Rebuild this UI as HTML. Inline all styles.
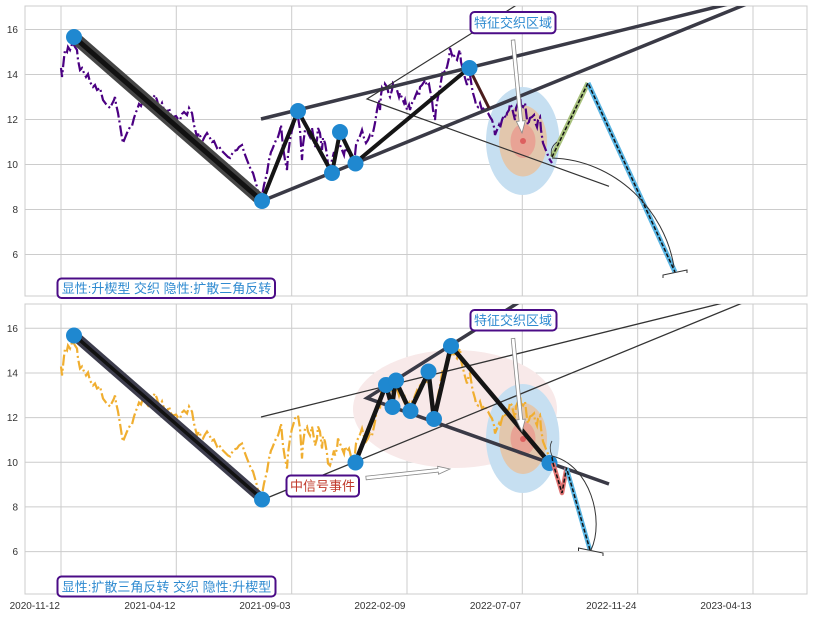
<!DOCTYPE html>
<html><head><meta charset="utf-8"><style>
html,body{margin:0;padding:0;background:#fff;}
svg{display:block;}
text{font-family:"Liberation Sans","Noto Sans CJK SC",sans-serif;}
</style></head><body>
<svg width="813" height="617" viewBox="0 0 813 617" xmlns="http://www.w3.org/2000/svg">
<defs>
<clipPath id="ct"><rect x="25" y="6" width="782" height="290"/></clipPath>
<clipPath id="cb"><rect x="25" y="304" width="782" height="290"/></clipPath>
<path id="ser" d="M61,68 L62,77 L64,58 L65,50 L67,52 L68,47 L70,50 L72,44 L73,43 L75,47 L77,50 L78,60 L80,70 L82,68 L84,73 L86,77 L88,74 L90,82 L93,87 L95,85 L97,90 L100,88 L102,96 L103,100 L106,104 L108,106 L110,108 L112,104 L114,100 L115,97 L116,104 L118,113 L120,125 L122,138 L123,143 L125,138 L127,133 L129,129 L130,127 L132,126 L134,118 L136,112 L137,110 L139,104 L141,106 L143,100 L145,103 L148,107 L150,102 L152,99 L155,95 L157,100 L158,104 L160,107 L162,103 L164,110 L167,113 L169,108 L171,115 L173,117 L176,116 L178,119 L180,120 L182,114 L184,112 L187,115 L189,108 L190,110 L192,113 L194,125 L197,137 L199,133 L201,138 L203,140 L205,136 L207,133 L210,138 L212,142 L214,141 L217,148 L219,146 L221,150 L223,152 L226,155 L228,157 L230,158 L232,154 L234,151 L237,150 L239,147 L242,145 L244,152 L247,160 L249,165 L251,170 L253,173 L255,180 L257,187 L258,193 L260,200 L262,196 L264,185 L267,173 L269,160 L271,152 L272,150 L274,145 L276,140 L278,137 L280,130 L281,125 L283,147 L285,160 L287,170 L288,155 L290,140 L292,130 L293,127 L295,120 L298,117 L300,130 L302,160 L303,145 L305,130 L307,128 L308,133 L310,137 L312,128 L314,140 L315,147 L317,140 L318,128 L320,133 L322,150 L323,138 L325,143 L327,155 L328,165 L330,167 L332,160 L334,152 L335,157 L337,150 L338,140 L340,145 L342,150 L344,155 L345,148 L347,153 L349,150 L351,158 L353,160 L355,155 L356,145 L358,140 L360,136 L362,130 L364,138 L366,143 L368,140 L370,135 L372,137 L374,128 L375,123 L377,110 L379,100 L380,110 L381,95 L382,88 L384,92 L385,84 L387,87 L389,95 L390,97 L392,90 L393,83 L395,85 L397,90 L399,97 L400,93 L402,98 L404,103 L405,100 L407,110 L409,105 L410,110 L412,103 L414,100 L415,97 L417,92 L419,96 L420,87 L422,85 L424,82 L425,80 L427,86 L429,84 L430,90 L432,100 L433,110 L435,120 L436,108 L438,97 L440,88 L442,75 L443,70 L445,72 L447,67 L449,58 L450,48 L452,55 L453,53 L455,58 L457,60 L459,52 L460,50 L461,62 L463,70 L465,78 L467,85 L468,80 L470,75 L472,88 L473,93 L475,100 L476,105 L478,107 L480,103 L482,110 L485,107 L487,112 L488,113 L490,117 L492,120 L494,127 L495,135 L497,130 L499,125 L500,128 L502,120 L504,115 L506,118 L507,113 L509,110 L510,104 L512,107 L513,112 L515,120 L516,108 L518,103 L520,96 L521,105 L523,107 L525,103 L527,120 L528,125 L530,118 L532,117 L534,115 L535,122 L537,127 L538,120 L540,117 L541,130 L543,143 L545,148 L547,153 L549,158 L550,160 L552,163"/>
</defs>

<!-- ============ TOP AXES ============ -->
<g stroke="#cccccc" stroke-width="1" fill="none">
<path d="M61,6V296 M176.3,6V296 M291.7,6V296 M407,6V296 M522.3,6V296 M637.7,6V296 M753,6V296"/>
<path d="M25,29.5H807 M25,74.5H807 M25,119.5H807 M25,164.5H807 M25,209.5H807 M25,254.5H807"/>
<rect x="25" y="6" width="782" height="290"/>
</g>
<g font-size="10" fill="#333" text-anchor="end">
<text x="18" y="33">16</text><text x="18" y="78">14</text><text x="18" y="123">12</text>
<text x="18" y="168">10</text><text x="18" y="213">8</text><text x="18" y="258">6</text>
</g>
<g clip-path="url(#ct)">
<ellipse cx="522.7" cy="141" rx="36.7" ry="54" fill="#c6dff1"/>
<ellipse cx="523" cy="141" rx="24" ry="35.5" fill="#e2c7ad"/>
<ellipse cx="523" cy="141" rx="12.5" ry="17" fill="#e8a395"/>
<circle cx="523" cy="141" r="3" fill="#dd5f5f"/>
<use href="#ser" fill="none" stroke="#4b0082" stroke-width="2.2" stroke-dasharray="11,3,2,3"/>
<path d="M261,119 L800,-13.6" stroke="#3a3a46" stroke-width="3.5" fill="none"/>
<path d="M262,201 L800,-17.7" stroke="#3a3a46" stroke-width="3.5" fill="none"/>
<path d="M530,-3.4 L367,99 L609,186.3" stroke="#333" stroke-width="1.2" fill="none"/>
<path d="M74,37 L262,201" stroke="#454545" stroke-width="12" fill="none" stroke-linecap="round"/>
<path d="M74,37 L262,201" stroke="#111" stroke-width="5" fill="none"/>
<path d="M262,201 L298,111 L332,173 L340,132 L355,163 L469,68" stroke="#151515" stroke-width="4" fill="none" stroke-linejoin="round"/>
<path d="M469,68 L489,108" stroke="#4a1c1c" stroke-width="3" fill="none"/>
<g fill="#1f88d0">
<circle cx="74" cy="37" r="8"/><circle cx="262" cy="201" r="8"/><circle cx="298" cy="111" r="8"/>
<circle cx="332" cy="173" r="8"/><circle cx="340" cy="132" r="8"/><circle cx="355.5" cy="163.5" r="8"/>
<circle cx="469.5" cy="68" r="8"/>
</g>
<path d="M552,157 L588,83" stroke="#a9c27e" stroke-width="5" fill="none"/>
<path d="M588,83 L675,272" stroke="#5bb6e4" stroke-width="5" fill="none"/>
<path d="M552,157 L588,83 L675,272" stroke="#111" stroke-width="1.5" fill="none" stroke-dasharray="4,2"/>
<path d="M552,158 C615,160 665,210 674,267" stroke="#333" stroke-width="1" fill="none"/>
<path d="M552,157 Q549,148 557,142" stroke="#333" stroke-width="0.8" fill="none"/>
<path d="M663,278 L663,275 L687,270 L687,273" stroke="#333" stroke-width="1" fill="none"/>
</g>
<polygon points="514.8,39.8 522.6,120.9 525.3,120.6 522,133 516.4,121.5 519.1,121.2 511.2,40.2" fill="#fff" stroke="#888" stroke-width="0.8"/>
<rect x="470.5" y="12" width="85" height="21.3" rx="4" fill="#fff" stroke="#4b0c87" stroke-width="2"/>
<text x="513" y="27.5" font-size="13" fill="#2e8ad0" text-anchor="middle">特征交织区域</text>
<rect x="57.5" y="278.5" width="217.5" height="19.5" rx="4" fill="#fff" stroke="#4b0c87" stroke-width="2"/>
<text x="166.5" y="293" font-size="13" fill="#2e8ad0" text-anchor="middle">显性:升楔型 交织 隐性:扩散三角反转</text>

<!-- ============ BOTTOM AXES ============ -->
<g stroke="#cccccc" stroke-width="1" fill="none">
<path d="M61,304V594 M176.3,304V594 M291.7,304V594 M407,304V594 M522.3,304V594 M637.7,304V594 M753,304V594"/>
<path d="M25,328.3H807 M25,373H807 M25,417.6H807 M25,462.2H807 M25,506.9H807 M25,551.6H807"/>
<rect x="25" y="304" width="782" height="290"/>
</g>
<g font-size="10" fill="#333" text-anchor="end">
<text x="18" y="332">16</text><text x="18" y="376.5">14</text><text x="18" y="421">12</text>
<text x="18" y="466">10</text><text x="18" y="510.5">8</text><text x="18" y="555">6</text>
</g>
<g font-size="10" fill="#333" text-anchor="end">
<text x="60" y="609">2020-11-12</text><text x="175.5" y="609">2021-04-12</text>
<text x="290.5" y="609">2021-09-03</text><text x="405.5" y="609">2022-02-09</text>
<text x="521" y="609">2022-07-07</text><text x="636.5" y="609">2022-11-24</text>
<text x="751.5" y="609">2023-04-13</text>
</g>
<g clip-path="url(#cb)">
<ellipse cx="455" cy="409" rx="102" ry="59" fill="#f8e9e9"/>
<ellipse cx="522.7" cy="438.5" rx="36.7" ry="54.5" fill="#c6dff1"/>
<ellipse cx="523" cy="438.5" rx="24" ry="35.5" fill="#e2c7ad"/>
<ellipse cx="523" cy="438.5" rx="12.5" ry="17" fill="#e8a395"/>
<circle cx="523" cy="439" r="3" fill="#dd5f5f"/>
<use href="#ser" transform="translate(0,298.5)" fill="none" stroke="#f0ae30" stroke-width="2.2" stroke-dasharray="11,3,2,3"/>
<path d="M261,417 L800,284" stroke="#333" stroke-width="1.3" fill="none"/>
<path d="M262,500 L800,279.4" stroke="#333" stroke-width="1.3" fill="none"/>
<path d="M540,289 L367,398 L609,484" stroke="#3a3a46" stroke-width="3.5" fill="none"/>
<path d="M74,335 L262,499" stroke="#3d3d4d" stroke-width="10" fill="none" stroke-linecap="round"/>
<path d="M74,335 L262,499" stroke="#111" stroke-width="3.5" fill="none"/>
<path d="M355.5,462 L386,385 L392,407 L395.5,380.5 L410,411 L428.5,372 L434,419 L451,346 L549.5,463" stroke="#151515" stroke-width="4.5" fill="none" stroke-linejoin="round"/>
<g fill="#1f88d0">
<circle cx="74" cy="335.5" r="8"/><circle cx="262" cy="499.5" r="8"/><circle cx="355.5" cy="462.5" r="8"/>
<circle cx="386" cy="385" r="8"/><circle cx="392.5" cy="407" r="8"/><circle cx="396" cy="380.5" r="8"/>
<circle cx="410.5" cy="411" r="8"/><circle cx="428.5" cy="371.5" r="8"/><circle cx="434" cy="419" r="8"/>
<circle cx="451" cy="346" r="8"/><circle cx="549.5" cy="463" r="8"/>
</g>
<path d="M553,463 L562,493 L566.5,468" stroke="#e07474" stroke-width="4.5" fill="none" stroke-linejoin="round"/>
<path d="M566.5,468 L590,550" stroke="#5bb6e4" stroke-width="4.5" fill="none"/>
<path d="M552,457 L553,463 L562,493 L566.5,468 L590,550" stroke="#111" stroke-width="1.5" fill="none" stroke-dasharray="4,2"/>
<path d="M552,456 C590,465 605,520 591,550" stroke="#333" stroke-width="1" fill="none"/>
<path d="M553,458 Q548,448 552,441" stroke="#333" stroke-width="0.8" fill="none"/>
<path d="M578.5,551 L578.5,548 L603,553 L603,556" stroke="#333" stroke-width="1" fill="none"/>
</g>
<polygon points="514.8,338.3 522.6,419.4 525.3,419.1 522,431.5 516.4,420 519.1,419.7 511.2,338.7" fill="#fff" stroke="#888" stroke-width="0.8"/>
<polygon points="366.2,479.8 438.3,472.1 438.5,474.3 450,469 437.6,466.3 437.9,468.5 365.8,476.2" fill="#fff" stroke="#888" stroke-width="0.8"/>
<rect x="470.5" y="310" width="86" height="20.5" rx="4" fill="#fff" stroke="#4b0c87" stroke-width="2"/>
<text x="513" y="325" font-size="13" fill="#2e8ad0" text-anchor="middle">特征交织区域</text>
<rect x="286.5" y="475.5" width="72.5" height="21" rx="4" fill="#fff" stroke="#4b0c87" stroke-width="2"/>
<text x="322.5" y="490.5" font-size="13" fill="#c0392b" text-anchor="middle">中信号事件</text>
<rect x="57.5" y="576.5" width="218" height="20" rx="4" fill="#fff" stroke="#4b0c87" stroke-width="2"/>
<text x="166.5" y="591.5" font-size="13" fill="#2e8ad0" text-anchor="middle">显性:扩散三角反转 交织 隐性:升楔型</text>
</svg>
</body></html>
